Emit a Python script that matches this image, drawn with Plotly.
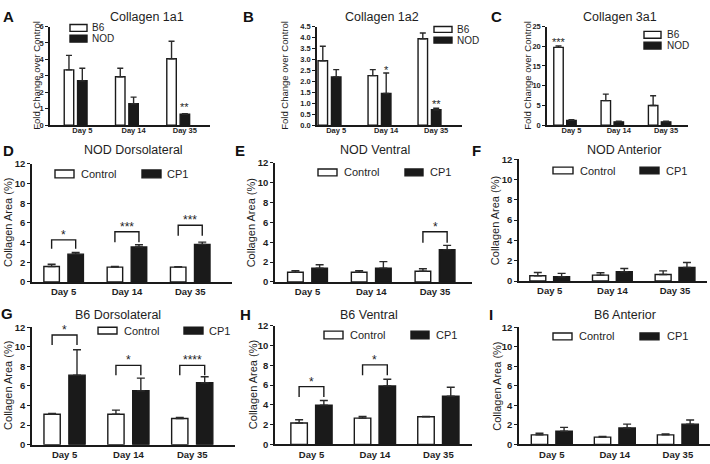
import plotly.graph_objects as go

W, H = 710, 464
FONT = "Arial, Liberation Sans, Helvetica, sans-serif"
INK = "#1e1e1e"
DARK = "#1a1a1a"

days = ["Day 5", "Day 14", "Day 35"]

# ---- Panel A: Collagen 1a1 (fold change over control)
a_b6 = [3.36, 2.94, 4.04]
a_b6_err = [0.88, 0.52, 1.06]
a_nod = [2.70, 1.30, 0.66]
a_nod_err = [0.76, 0.40, 0.04]

# ---- Panel B: Collagen 1a2
b_b6 = [2.94, 2.26, 3.94]
b_b6_err = [0.66, 0.27, 0.26]
b_nod = [2.20, 1.44, 0.70]
b_nod_err = [0.33, 0.94, 0.07]

# ---- Panel C: Collagen 3a1
c_b6 = [19.7, 6.2, 4.97]
c_b6_err = [0.4, 1.66, 2.48]
c_nod = [1.2, 0.83, 0.83]
c_nod_err = [0.2, 0.17, 0.17]

# ---- Panels D-I: Collagen area (%)
d_ctrl = [1.58, 1.51, 1.51]
d_ctrl_err = [0.22, 0.07, 0.04]
d_cp1 = [2.83, 3.55, 3.82]
d_cp1_err = [0.17, 0.23, 0.23]

e_ctrl = [0.98, 0.98, 1.08]
e_ctrl_err = [0.16, 0.16, 0.26]
e_cp1 = [1.40, 1.40, 3.26]
e_cp1_err = [0.33, 0.65, 0.42]

f_ctrl = [0.52, 0.58, 0.65]
f_ctrl_err = [0.32, 0.23, 0.35]
f_cp1 = [0.42, 0.91, 1.33]
f_cp1_err = [0.33, 0.32, 0.49]

g_ctrl = [3.10, 3.10, 2.67]
g_ctrl_err = [0.10, 0.43, 0.10]
g_cp1 = [7.10, 5.50, 6.33]
g_cp1_err = [2.60, 1.30, 0.60]

h_ctrl = [2.17, 2.66, 2.80]
h_ctrl_err = [0.33, 0.17, 0.02]
h_cp1 = [3.98, 5.92, 4.87]
h_cp1_err = [0.46, 0.68, 0.92]

i_ctrl = [0.97, 0.74, 0.97]
i_ctrl_err = [0.17, 0.06, 0.10]
i_cp1 = [1.34, 1.67, 2.07]
i_cp1_err = [0.40, 0.40, 0.43]

# significance brackets: (day index, bracket top, leg bottom, label)
sig_d = [(0, 4.28, 3.39, "*"), (1, 5.10, 4.05, "***"), (2, 5.76, 4.70, "***")]
sig_e = [(2, 5.05, 3.95, "*")]
sig_g = [(0, 11.2, 10.17, "*"), (1, 8.1, 7.1, "*"), (2, 8.1, 7.1, "****")]
sig_h = [(0, 5.85, 4.80, "*"), (1, 8.05, 7.0, "*")]
# stars over single bars: (day index, series 0/1, y, label)
star_a = [(2, 1, 1.30, "**")]
star_b = [(1, 1, 2.67, "*"), (2, 0, 4.53, "*"), (2, 1, 1.10, "**")]
star_c = [(0, 0, 21.9, "***")]

yticks_a = [0, 1, 2, 3, 4, 5, 6]
yticks_b = [0, 0.5, 1.0, 1.5, 2.0, 2.5, 3.0, 3.5, 4.0, 4.5]
yticks_c = [0, 5, 10, 15, 20, 25]
yticks_area = [0, 2, 4, 6, 8, 10, 12]


def px(x):
    return x / W


def py(y):
    return 1 - y / H


panels = [
    dict(letter="A", lpos=(8, 11), title="Collagen 1a1", tpos=(147, 11),
         s=[a_b6, a_nod], e=[a_b6_err, a_nod_err], names=["B6", "NOD"],
         xd=(50, 210), yd=(21, 122), xr=(-0.5, 2.62), yr=(0, 6), yt=yticks_a, fmt="d",
         bw=0.185, off=0.13, tickshift=0.13, small=True,
         ytitle="Fold Change over Control", ytx=37,
         leg=[(70, 87, 19, 26, 90), (70, 87, 30, 37, 90)], legfs=10,
         sig=[], star=star_a),
    dict(letter="B", lpos=(249, 11), title="Collagen 1a2", tpos=(382, 11),
         s=[b_b6, b_nod], e=[b_b6_err, b_nod_err], names=["B6", "NOD"],
         xd=(317, 462), yd=(21, 122), xr=(-0.25, 2.65), yr=(0, 4.5), yt=yticks_b, fmt=".1f",
         bw=0.19, off=0.134, tickshift=0.134, small=True,
         ytitle="Fold Change over Control", ytx=285,
         leg=[(434, 452, 21, 27, 455), (434, 452, 32, 38, 455)], legfs=10,
         sig=[], star=star_b),
    dict(letter="C", lpos=(497, 11), title="Collagen 3a1", tpos=(620, 11),
         s=[c_b6, c_nod], e=[c_b6_err, c_nod_err], names=["B6", "NOD"],
         xd=(547, 688), yd=(21, 122), xr=(-0.38, 2.6), yr=(0, 25), yt=yticks_c, fmt="d",
         bw=0.2, off=0.137, tickshift=0.137, small=True,
         ytitle="Fold Change over Control", ytx=528,
         leg=[(644, 661, 26, 33, 665), (644, 661, 37, 44, 665)], legfs=10,
         sig=[], star=star_c),
    dict(letter="D", lpos=(8, 148), title="NOD Dorsolateral", tpos=(133, 148),
         s=[d_ctrl, d_cp1], e=[d_ctrl_err, d_cp1_err], names=["Control", "CP1"],
         xd=(32, 232), yd=(161.7, 282.7), xr=(-0.5, 2.66), yr=(0, 12), yt=yticks_area, fmt="d",
         bw=0.245, off=0.19, tickshift=0, small=False,
         ytitle="Collagen Area (%)", ytx=8,
         leg=[(55, 74, 168, 176, 79), (142, 161, 168, 176, 165)], legfs=11,
         sig=sig_d, star=[]),
    dict(letter="E", lpos=(240, 148), title="NOD Ventral", tpos=(375, 148),
         s=[e_ctrl, e_cp1], e=[e_ctrl_err, e_cp1_err], names=["Control", "CP1"],
         xd=(275, 472), yd=(160.5, 282.7), xr=(-0.51, 2.58), yr=(0, 12), yt=yticks_area, fmt="d",
         bw=0.245, off=0.19, tickshift=0, small=False,
         ytitle="Collagen Area (%)", ytx=251,
         leg=[(318, 337, 167, 174, 342), (405, 423, 167, 174, 428)], legfs=11,
         sig=sig_e, star=[]),
    dict(letter="F", lpos=(476, 148), title="NOD Anterior", tpos=(624, 148),
         s=[f_ctrl, f_cp1], e=[f_ctrl_err, f_cp1_err], names=["Control", "CP1"],
         xd=(519, 707), yd=(157, 281.7), xr=(-0.49, 2.51), yr=(0, 12), yt=yticks_area, fmt="d",
         bw=0.255, off=0.19, tickshift=0, small=False,
         ytitle="Collagen Area (%)", ytx=495,
         leg=[(553, 573, 165, 172, 578), (640, 659, 165, 172, 664)], legfs=11,
         sig=[], star=[]),
    dict(letter="G", lpos=(7, 315), title="B6 Dorsolateral", tpos=(118, 317),
         s=[g_ctrl, g_cp1], e=[g_ctrl_err, g_cp1_err], names=["Control", "CP1"],
         xd=(32, 235), yd=(329, 449.3), xr=(-0.51, 2.67), yr=(0, 12), yt=yticks_area, fmt="d",
         bw=0.255, off=0.195, tickshift=0, small=False,
         ytitle="Collagen Area (%)", ytx=8,
         leg=[(98, 117, 329, 336, 122), (184, 203, 329, 336, 207)], legfs=11,
         sig=sig_g, star=[]),
    dict(letter="H", lpos=(245, 316), title="B6 Ventral", tpos=(369, 317),
         s=[h_ctrl, h_cp1], e=[h_ctrl_err, h_cp1_err], names=["Control", "CP1"],
         xd=(275, 472), yd=(327.7, 449), xr=(-0.575, 2.53), yr=(0, 12), yt=yticks_area, fmt="d",
         bw=0.26, off=0.195, tickshift=0, small=False,
         ytitle="Collagen Area (%)", ytx=253,
         leg=[(324, 343, 333, 341, 348), (411, 429, 333, 341, 434)], legfs=11,
         sig=sig_h, star=[]),
    dict(letter="I", lpos=(491, 316), title="B6 Anterior", tpos=(625, 317),
         s=[i_ctrl, i_cp1], e=[i_ctrl_err, i_cp1_err], names=["Control", "CP1"],
         xd=(519, 710), yd=(329, 449), xr=(-0.52, 2.51), yr=(0, 12), yt=yticks_area, fmt="d",
         bw=0.26, off=0.195, tickshift=0, small=False,
         ytitle="Collagen Area (%)", ytx=497,
         leg=[(553, 572, 335, 342, 577), (640, 659, 335, 342, 665)], legfs=11,
         sig=[], star=[]),
]

fig = go.Figure()
annotations = []
shapes = []
layout_axes = {}

for k, p in enumerate(panels, start=1):
    xa = "x" if k == 1 else f"x{k}"
    ya = "y" if k == 1 else f"y{k}"
    xkey = "xaxis" if k == 1 else f"xaxis{k}"
    ykey = "yaxis" if k == 1 else f"yaxis{k}"
    small = p["small"]
    tfs = 7.5 if small else 9.5
    idx = list(range(len(days)))
    fills = ["white", DARK]
    for j in range(2):
        sign = -1 if j == 0 else 1
        fig.add_trace(go.Bar(
            x=[i + sign * p["off"] for i in idx], y=p["s"][j], width=p["bw"],
            name=p["names"][j], xaxis=xa, yaxis=ya,
            marker=dict(color=fills[j], line=dict(color=DARK, width=1.4)),
            error_y=dict(type="data", array=p["e"][j], arrayminus=[0] * 3,
                         symmetric=False, color="#2a2a2a", thickness=1.4,
                         width=3 if small else 4),
            showlegend=False, hoverinfo="skip",
        ))
    layout_axes[xkey] = dict(
        domain=[px(p["xd"][0]), px(p["xd"][1])], range=list(p["xr"]),
        anchor=ya, showline=True, linecolor=DARK, linewidth=1.5,
        showgrid=False, zeroline=False, ticks="",
        ticklabelstandoff=-3 if small else 0,
        tickvals=[i + p["tickshift"] for i in idx], ticktext=days,
        tickfont=dict(family=FONT, size=tfs, color=INK, weight="bold"),
        fixedrange=True,
    )
    layout_axes[ykey] = dict(
        domain=[py(p["yd"][1]), py(p["yd"][0])], range=list(p["yr"]),
        anchor=xa, showline=True, linecolor=DARK, linewidth=1.5,
        showgrid=False, zeroline=False, ticks="outside", ticklen=3,
        tickwidth=1.3, tickcolor=DARK, tickvals=p["yt"], tickformat=p["fmt"],
        tickfont=dict(family=FONT, size=tfs, color=INK, weight="bold"),
        fixedrange=True,
    )
    # panel letter
    annotations.append(dict(text=p["letter"], x=px(p["lpos"][0]), y=py(p["lpos"][1]),
                            xref="paper", yref="paper", showarrow=False,
                            xanchor="center", yanchor="middle",
                            font=dict(family=FONT, size=15, color="#111", weight="bold")))
    # title
    annotations.append(dict(text=p["title"], x=px(p["tpos"][0]), y=py(p["tpos"][1]),
                            xref="paper", yref="paper", showarrow=False,
                            xanchor="center", yanchor="middle",
                            font=dict(family=FONT, size=12.5, color=INK)))
    # y title
    ymid = (p["yd"][0] + p["yd"][1]) / 2
    annotations.append(dict(text=p["ytitle"], x=px(p["ytx"]), y=py(ymid),
                            xref="paper", yref="paper", showarrow=False,
                            textangle=-90, xanchor="center", yanchor="middle",
                            font=dict(family=FONT, size=9.5 if small else 11, color=INK)))
    # legend boxes
    for j, (x0, x1, y0, y1, tx) in enumerate(p["leg"]):
        shapes.append(dict(type="rect", xref="paper", yref="paper",
                           x0=px(x0), x1=px(x1), y0=py(y1), y1=py(y0),
                           fillcolor=fills[j], line=dict(color=DARK, width=1.4)))
        annotations.append(dict(text=p["names"][j], x=px(tx), y=py((y0 + y1) / 2),
                                xref="paper", yref="paper", showarrow=False,
                                xanchor="left", yanchor="middle",
                                font=dict(family=FONT, size=p["legfs"], color=INK)))
    # significance brackets
    for (g, ytop, ybot, lab) in p["sig"]:
        x1 = g - p["off"]
        x2 = g + p["off"]
        shapes.append(dict(type="path", xref=xa, yref=ya,
                           path=f"M {x1},{ybot} L {x1},{ytop} L {x2},{ytop} L {x2},{ybot}",
                           line=dict(color=DARK, width=1.4)))
        annotations.append(dict(text=lab, x=g, y=ytop, xref=xa, yref=ya,
                                showarrow=False, xanchor="center", yanchor="bottom",
                                yshift=-4,
                                font=dict(family=FONT, size=12, color=INK)))
    for (g, ser, ys, lab) in p["star"]:
        sign = -1 if ser == 0 else 1
        annotations.append(dict(text=lab, x=g + sign * p["off"], y=ys, xref=xa, yref=ya,
                                showarrow=False, xanchor="center", yanchor="middle",
                                yshift=-3,
                                font=dict(family=FONT, size=11, color=INK)))

fig.update_layout(
    width=W, height=H, autosize=False,
    margin=dict(l=0, r=0, t=0, b=0),
    paper_bgcolor="white", plot_bgcolor="white",
    barmode="overlay", showlegend=False,
    annotations=annotations, shapes=shapes,
    **layout_axes,
)

fig.write_html("out.html", config={"displayModeBar": False},
               post_script="document.body.style.margin='0';document.body.style.overflow='hidden';")
